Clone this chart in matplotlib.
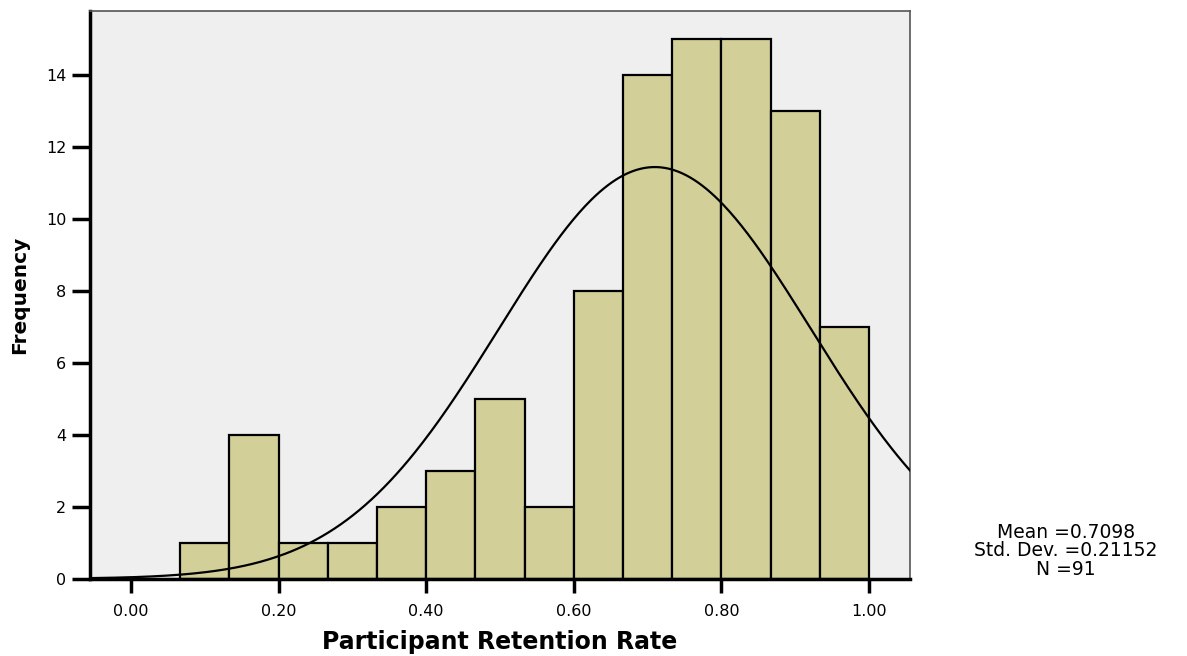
import numpy as np
import matplotlib
matplotlib.use("Agg")
import matplotlib.pyplot as plt

plt.rcParams['font.family'] = ['DejaVu Sans']

bin_edges = [i / 15 for i in range(1, 16)]
counts = [1, 4, 1, 1, 2, 3, 5, 2, 8, 14, 15, 15, 13, 7]
mean = 0.7098
std = 0.21152
n = 91
xticks = [0.0, 0.2, 0.4, 0.6, 0.8, 1.0]
xtick_labels = ["0.00", "0.20", "0.40", "0.60", "0.80", "1.00"]
yticks = [0, 2, 4, 6, 8, 10, 12, 14]

fig = plt.figure(figsize=(11.87, 6.56), dpi=100)
ax = fig.add_axes([90/1187, 1-578.7/656, 820/1187, (578.7-11)/656])
ax.set_facecolor('#EFEFEF')

lefts = np.array(bin_edges[:-1])
widths = np.diff(bin_edges)
ax.bar(lefts, counts, width=widths, align='edge', color='#D3CF99',
       edgecolor='black', linewidth=1.6, zorder=2)

xmin, xmax = -1/18, 1 + 1/18
xs = np.linspace(xmin, xmax, 400)
bw = 1/15
ys = n * bw / (std * np.sqrt(2*np.pi)) * np.exp(-0.5 * ((xs - mean)/std)**2)
ax.plot(xs, ys, color='black', linewidth=1.6, zorder=3)

ax.set_xlim(xmin, xmax)
ax.set_ylim(0, 15.78)
ax.set_xticks(xticks)
ax.set_xticklabels(xtick_labels)
ax.set_yticks(yticks)
ax.tick_params(axis='x', length=10, width=2.5, labelsize=11.5, pad=8, direction='out')
ax.tick_params(axis='y', length=13, width=2.5, labelsize=11.5, pad=4, direction='out')

for s in ['left', 'bottom']:
    ax.spines[s].set_linewidth(2.5)
    ax.spines[s].set_color('black')
for s in ['top', 'right']:
    ax.spines[s].set_linewidth(1.2)
    ax.spines[s].set_color('#555555')

ax.set_xlabel('Participant Retention Rate', fontsize=17, fontweight='bold', labelpad=8)
ax.set_ylabel('Frequency', fontsize=14.5, fontweight='bold', labelpad=12)

fig.text(1066/1187, 1-551/656, f"Mean ={mean}\nStd. Dev. ={std}\nN ={n}",
         ha='center', va='center', fontsize=13.5, linespacing=0.95)

fig.savefig('out.png', dpi=100)
